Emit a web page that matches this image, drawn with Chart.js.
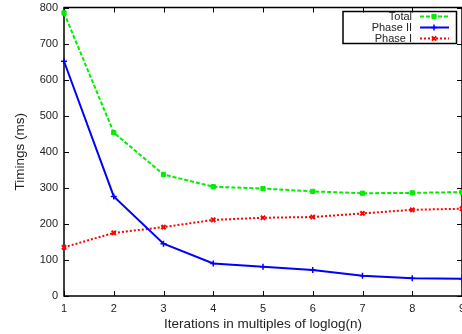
<!DOCTYPE html>
<html>
<head>
<meta charset="utf-8">
<script src="https://cdn.jsdelivr.net/npm/chart.js@4/dist/chart.umd.min.js"></script>
<style>
  html, body { margin: 0; padding: 0; background: #fff; overflow: hidden; }
  #wrap { width: 462px; height: 334px; }
</style>
</head>
<body>
<div id="wrap"><canvas id="c" width="462" height="334"></canvas></div>
<script>
// Iteration count (multiples of loglog(n)) and measured timings in ms
const iterations = [1, 2, 3, 4, 5, 6, 7, 8, 9];
const totalMs  = [785, 453, 337, 303, 298, 290, 285, 286, 288];
const phase2Ms = [651, 276, 145, 90, 81, 72, 56, 49, 48];
const phase1Ms = [135, 175, 191, 211, 217, 219, 229, 239, 242];
const seriesNames = ['Total', 'Phase II', 'Phase I'];
const yTickValues = [0, 100, 200, 300, 400, 500, 600, 700, 800];

const FONT = "'Liberation Sans', Arial, Helvetica, sans-serif";
const TEXT = '#222';

const pts = ys => iterations.map((x, i) => ({ x, y: ys[i] }));

// Gnuplot-style frame: full border with inward ticks on all four sides
const framePlugin = {
  id: 'frame',
  beforeDatasetsDraw(chart) {
    const { ctx, chartArea: a, scales: { x, y } } = chart;
    const len = 5;
    ctx.save();
    ctx.strokeStyle = '#000';
    ctx.lineWidth = 1.5;
    ctx.strokeRect(a.left, a.top, a.right - a.left, a.bottom - a.top);
    ctx.lineWidth = 1;
    ctx.beginPath();
    x.ticks.forEach(t => {
      const px = Math.round(x.getPixelForValue(t.value)) + 0.5;
      ctx.moveTo(px, a.bottom); ctx.lineTo(px, a.bottom - len);
      ctx.moveTo(px, a.top); ctx.lineTo(px, a.top + len);
    });
    y.ticks.forEach(t => {
      const py = Math.round(y.getPixelForValue(t.value)) + 0.5;
      ctx.moveTo(a.left, py); ctx.lineTo(a.left + len, py);
      ctx.moveTo(a.right, py); ctx.lineTo(a.right - len, py);
    });
    ctx.stroke();
    ctx.restore();
  },
  // Boxed key in the top-right corner: label, then a line sample with its marker
  afterDraw(chart) {
    const { ctx } = chart;
    const box = { l: 343, t: 11.5, r: 456.5, b: 43.5 };
    ctx.save();
    ctx.strokeStyle = '#000';
    ctx.lineWidth = 1.5;
    ctx.strokeRect(box.l, box.t, box.r - box.l, box.b - box.t);
    ctx.font = '11px ' + FONT;
    ctx.textAlign = 'right';
    ctx.textBaseline = 'middle';
    chart.data.datasets.forEach((ds, i) => {
      const yy = 16.5 + i * 11;
      ctx.fillStyle = TEXT;
      ctx.fillText(ds.label, 412, yy + 0.5);
      ctx.save();
      ctx.strokeStyle = ds.borderColor;
      ctx.lineWidth = ds.borderWidth;
      ctx.setLineDash(ds.borderDash || []);
      ctx.beginPath();
      ctx.moveTo(420, yy); ctx.lineTo(449, yy);
      ctx.stroke();
      ctx.setLineDash([]);
      ctx.fillStyle = ds.pointBackgroundColor;
      ctx.strokeStyle = ds.pointBorderColor;
      ctx.lineWidth = ds.pointBorderWidth;
      Chart.helpers.drawPoint(ctx, {
        pointStyle: ds.pointStyle, radius: ds.pointRadius,
        borderWidth: ds.pointBorderWidth, rotation: 0
      }, 434, yy);
      ctx.restore();
    });
    ctx.restore();
  }
};

new Chart(document.getElementById('c'), {
  type: 'line',
  data: {
    datasets: [
      {
        label: seriesNames[0], data: pts(totalMs),
        borderColor: '#00ee00', borderWidth: 2, borderDash: [4, 2],
        pointStyle: 'rect', pointRadius: 3,
        pointBackgroundColor: '#00ee00', pointBorderColor: '#00ee00', pointBorderWidth: 1,
        clip: false
      },
      {
        label: seriesNames[1], data: pts(phase2Ms),
        borderColor: '#0000ff', borderWidth: 2,
        pointStyle: 'cross', pointRadius: 3,
        pointBackgroundColor: '#0000ff', pointBorderColor: '#0000ff', pointBorderWidth: 1.5,
        clip: false
      },
      {
        label: seriesNames[2], data: pts(phase1Ms),
        borderColor: '#ff0000', borderWidth: 2, borderDash: [2, 2],
        pointStyle: 'crossRot', pointRadius: 3,
        pointBackgroundColor: '#ff0000', pointBorderColor: '#ff0000', pointBorderWidth: 2,
        clip: false
      }
    ]
  },
  options: {
    responsive: false,
    animation: false,
    devicePixelRatio: 1,
    layout: { autoPadding: false, padding: { top: 7.5, right: 0, left: 0, bottom: 0 } },
    plugins: { legend: { display: false }, tooltip: { enabled: false } },
    elements: { line: { tension: 0 } },
    scales: {
      x: {
        type: 'linear', min: 1, max: 9,
        afterFit(s) { s.height = 38; s.paddingLeft = 0; s.paddingRight = 0; },
        grid: { display: false, drawTicks: false },
        border: { display: false },
        ticks: { stepSize: 1, padding: 6, color: TEXT, font: { family: FONT, size: 11 }, maxRotation: 0 },
        title: {
          display: true, text: 'Iterations in multiples of loglog(n)',
          color: TEXT, font: { family: FONT, size: 13.5 }, padding: { top: 0, bottom: 2 }
        }
      },
      y: {
        type: 'linear', min: 0, max: 800,
        afterFit(s) { s.width = 64; s.paddingTop = 0; s.paddingBottom = 0; },
        afterBuildTicks(s) { s.ticks = yTickValues.map(v => ({ value: v })); },
        grid: { display: false, drawTicks: false },
        border: { display: false },
        ticks: { padding: 6, color: TEXT, font: { family: FONT, size: 11 } },
        title: {
          display: true, text: 'Timings (ms)',
          color: TEXT, font: { family: FONT, size: 13.5 }, padding: { top: 12, bottom: 0 }
        }
      }
    }
  },
  plugins: [framePlugin]
});
</script>
</body>
</html>
